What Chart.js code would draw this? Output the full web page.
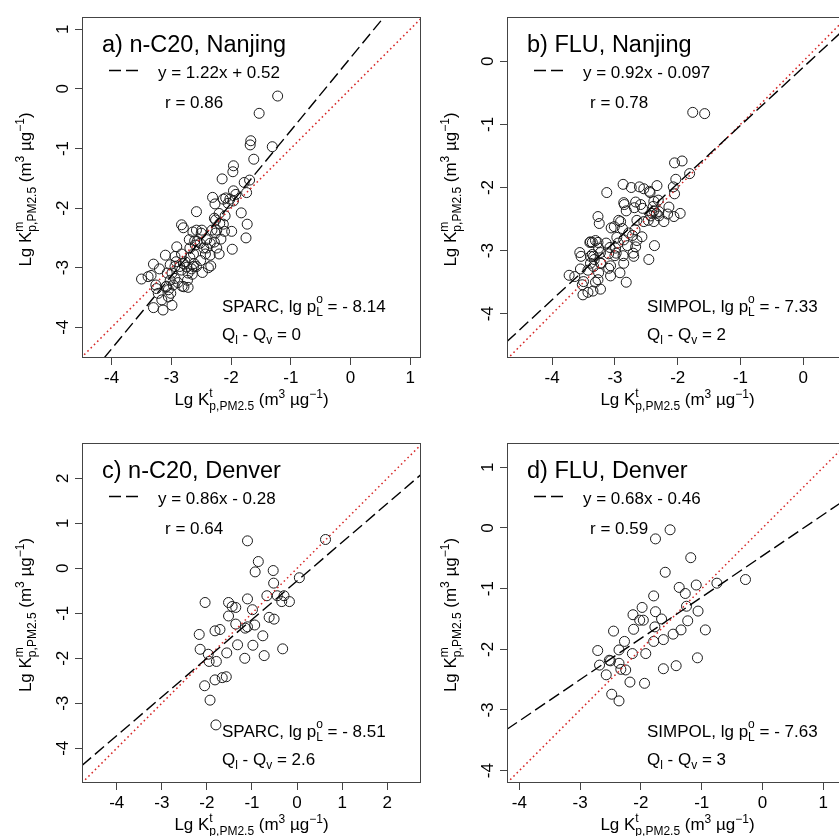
<!DOCTYPE html>
<html><head><meta charset="utf-8">
<script src="https://cdn.jsdelivr.net/npm/chart.js@4.4.1/dist/chart.umd.min.js"></script>
<style>
html,body{margin:0;padding:0;background:#fff;width:839px;height:836px;overflow:hidden;position:relative;}
canvas{position:absolute;}
</style></head><body>
<canvas id="pA" width="440" height="420" style="left:0px;top:0px;width:440px;height:420px"></canvas>
<canvas id="pB" width="442" height="420" style="left:425px;top:0px;width:442px;height:420px"></canvas>
<canvas id="pC" width="440" height="419" style="left:0px;top:426px;width:440px;height:419px"></canvas>
<canvas id="pD" width="442" height="419" style="left:425px;top:426px;width:442px;height:419px"></canvas>
<script>
const FONT = '"Liberation Sans", Arial, Helvetica, sans-serif';

// ---- data: panel a) n-C20, Nanjing (x = Lg Kp theoretical, y = Lg Kp measured)
const aKt = [-1.22,-1.53,-1.67,-1.68,-1.31,-1.62,-1.96,-1.97,-2.15,-1.78,-1.69,-1.74,-1.96,-1.92,-2.02,-2.13,-2.09,-2.31,-2.27,-2.58,-1.83,-2.20,-2.28,-2.26,-2.10,-1.73,-1.75,-1.99,-2.13,-2.11,-2.17,-2.28,-2.26,-1.98,-2.20,-2.34,-2.38,-2.48,-2.43,-2.46,-2.49,-2.50,-2.58,-2.61,-2.57,-2.60,-2.70,-2.83,-2.80,-2.64,-2.52,-2.91,-2.83,-2.63,-2.69,-2.62,-2.58,-2.66,-2.74,-2.80,-3.10,-3.02,-2.94,-2.83,-2.72,-2.65,-2.73,-2.82,-2.72,-2.79,-3.30,-3.20,-3.07,-2.99,-2.94,-3.02,-3.09,-3.05,-3.08,-2.97,-2.89,-3.50,-3.39,-3.34,-3.26,-3.25,-3.22,-3.16,-3.05,-3.01,-2.99,-3.14,-3.30,-2.92,-2.35,-2.41,-2.51,-2.63,-2.77,-2.86,-2.94,-2.69,-2.41,-2.35,-2.24,-2.05,-1.96,-2.19,-2.32,-2.24];
const aKm = [-0.12,-0.41,-0.87,-0.94,-0.97,-1.18,-1.29,-1.39,-1.51,-1.57,-1.53,-1.74,-1.71,-1.77,-1.85,-1.85,-1.83,-1.82,-1.93,-2.06,-2.08,-2.09,-2.17,-2.20,-2.13,-2.27,-2.50,-2.39,-2.27,-2.39,-2.52,-2.57,-2.42,-2.69,-2.77,-2.97,-3.00,-3.08,-2.77,-2.67,-2.37,-2.42,-2.37,-2.55,-2.56,-2.62,-2.53,-2.28,-2.33,-2.40,-2.59,-2.65,-2.77,-2.77,-2.83,-2.93,-2.98,-3.02,-2.99,-2.93,-2.79,-2.95,-2.98,-3.04,-3.09,-3.11,-3.21,-3.31,-3.33,-3.32,-2.94,-3.02,-3.09,-3.09,-3.18,-3.21,-3.32,-3.37,-3.31,-3.29,-3.25,-3.19,-3.15,-3.13,-3.29,-3.35,-3.43,-3.54,-3.49,-3.43,-3.63,-3.71,-3.67,-2.90,-2.79,-2.67,-2.88,-2.98,-2.90,-2.98,-2.81,-2.67,-2.53,-2.59,-2.67,-1.92,-1.88,-2.26,-2.37,-2.37];
// ---- panel b) FLU, Nanjing
const bKt = [-1.76,-1.57,-2.05,-1.93,-2.03,-1.81,-1.96,-2.07,-2.05,-2.33,-2.44,-2.45,-2.61,-2.54,-2.74,-2.87,-3.13,-2.67,-2.59,-2.56,-2.69,-2.82,-2.86,-2.85,-2.38,-2.31,-2.39,-2.38,-2.34,-2.30,-2.14,-2.16,-2.22,-2.06,-2.30,-2.41,-2.38,-3.27,-3.25,-2.94,-2.91,-3.01,-3.06,-2.88,-2.65,-2.68,-2.57,-2.72,-2.47,-2.54,-2.43,-2.78,-2.86,-2.80,-2.67,-2.65,-2.97,-3.14,-3.26,-3.23,-3.08,-2.99,-2.95,-2.71,-2.70,-2.87,-2.98,-3.00,-3.10,-3.39,-3.31,-3.36,-3.40,-3.27,-2.37,-2.46,-3.56,-3.54,-3.36,-3.34,-3.33,-3.39,-3.23,-3.07,-3.10,-2.86,-3.34,-3.26,-3.27,-3.31,-3.73,-3.64,-3.55,-3.50,-3.43,-3.52,-3.51,-3.43,-3.35,-3.23,-3.07,-2.92,-2.82,-3.22,-3.39];
const bKm = [-0.81,-0.83,-1.61,-1.58,-1.87,-1.78,-2.41,-1.99,-2.10,-1.97,-2.08,-2.06,-1.99,-2.02,-2.00,-1.95,-2.08,-2.23,-2.27,-2.33,-2.32,-2.37,-2.24,-2.27,-2.22,-2.20,-2.30,-2.37,-2.41,-2.38,-2.31,-2.42,-2.54,-2.46,-2.45,-2.41,-2.54,-2.46,-2.57,-2.52,-2.54,-2.62,-2.64,-2.65,-2.52,-2.67,-2.78,-2.76,-2.52,-2.54,-2.45,-2.72,-2.83,-2.92,-2.94,-2.84,-2.79,-2.88,-2.96,-3.03,-2.95,-2.96,-2.88,-3.04,-3.09,-3.08,-3.04,-3.08,-3.05,-2.86,-2.84,-2.87,-2.87,-2.87,-2.92,-3.14,-3.03,-3.09,-3.06,-3.09,-3.14,-3.09,-3.20,-3.24,-3.28,-3.20,-3.25,-3.35,-3.46,-3.50,-3.39,-3.41,-3.29,-3.49,-3.31,-3.54,-3.70,-3.66,-3.64,-3.61,-3.40,-3.35,-3.50,-3.20,-3.20];
// ---- panel c) n-C20, Denver
const cKt = [-1.10,0.63,-0.86,-0.93,-0.53,-0.52,0.05,-2.04,-1.52,-1.44,-1.36,-1.10,-0.99,-0.67,-0.44,-0.29,-0.34,-0.17,-1.52,-1.36,-1.15,-1.10,-0.94,-0.62,-0.51,-2.17,-1.82,-1.71,-0.76,-2.15,-1.97,-1.95,-1.79,-1.56,-1.32,-0.98,-1.16,-0.73,-0.32,-2.05,-1.82,-1.66,-1.57,-1.93,-1.80];
const cKm = [0.61,0.64,0.15,-0.08,-0.05,-0.33,-0.21,-0.76,-0.76,-0.85,-0.87,-0.68,-0.92,-0.61,-0.61,-0.61,-0.74,-0.74,-1.06,-1.24,-1.33,-1.30,-1.26,-1.09,-1.13,-1.47,-1.39,-1.36,-1.50,-1.80,-1.91,-2.07,-2.07,-1.88,-1.70,-1.71,-2.00,-1.94,-1.79,-2.61,-2.48,-2.43,-2.41,-2.93,-3.48];
// ---- panel d) FLU, Denver
const dKt = [-1.52,-1.76,-1.18,-1.60,-0.28,-0.75,-1.09,-1.37,-1.27,-1.79,-1.98,-2.13,-2.02,-1.96,-1.76,-1.66,-1.25,-1.06,-1.23,-1.77,-2.12,-2.45,-1.34,-0.94,-1.47,-1.63,-1.79,-2.27,-2.36,-2.71,-2.14,-1.92,-2.68,-2.52,-2.50,-2.36,-2.33,-2.25,-2.57,-1.07,-1.42,-1.63,-2.18,-1.94,-2.48,-2.36];
const dKm = [-0.03,-0.18,-0.49,-0.73,-0.85,-0.91,-0.94,-0.98,-1.08,-1.12,-1.31,-1.43,-1.52,-1.52,-1.38,-1.50,-1.29,-1.37,-1.53,-1.63,-1.67,-1.70,-1.68,-1.68,-1.75,-1.84,-1.87,-1.87,-2.01,-2.02,-2.07,-2.07,-2.26,-2.18,-2.19,-2.23,-2.33,-2.34,-2.42,-2.14,-2.27,-2.32,-2.54,-2.56,-2.74,-2.85];

// ---- regression fits and annotations
const panelTitles = ['a) n-C20, Nanjing', 'b) FLU, Nanjing', 'c) n-C20, Denver', 'd) FLU, Denver'];
const slopes = [1.22, 0.92, 0.86, 0.68];
const intercepts = [0.52, -0.097, -0.28, -0.46];
const eqLabels = ['y = 1.22x + 0.52', 'y = 0.92x - 0.097', 'y = 0.86x - 0.28', 'y = 0.68x - 0.46'];
const rLabels = ['r = 0.86', 'r = 0.78', 'r = 0.64', 'r = 0.59'];
const methods = ['SPARC', 'SIMPOL', 'SPARC', 'SIMPOL'];
const lgPL = ['- 8.14', '- 7.33', '- 8.51', '- 7.63'];
const qDiff = ['0', '2', '2.6', '3'];

// ---- axis ticks and ranges
const aTicksX = [-4,-3,-2,-1,0,1];    const aTicksY = [-4,-3,-2,-1,0,1];
const bTicksX = [-4,-3,-2,-1,0];      const bTicksY = [-4,-3,-2,-1,0];
const cTicksX = [-4,-3,-2,-1,0,1,2];  const cTicksY = [-4,-3,-2,-1,0,1,2];
const dTicksX = [-4,-3,-2,-1,0,1];    const dTicksY = [-4,-3,-2,-1,0,1];
const aRangeX = [-4.497, 1.181]; const aRangeY = [-4.515, 1.206];
const bRangeX = [-4.72, 0.714];  const bRangeY = [-4.70, 0.70];
const cRangeX = [-4.769, 2.747]; const cRangeY = [-4.771, 2.784];
const dRangeX = [-4.202, 1.406]; const dRangeY = [-4.203, 1.40];

function fontStr(s){ return s + 'px ' + FONT; }
function partWidth(ctx, p){
  ctx.font = fontStr(p.s);
  if (p.stack) return Math.max(ctx.measureText(p.sup).width, ctx.measureText(p.sub).width);
  return ctx.measureText(p.t).width;
}
function drawRich(ctx, parts, x, y, align){
  let w = 0; for (const p of parts) w += partWidth(ctx, p);
  let cx = align === 'center' ? x - w / 2 : x;
  ctx.textAlign = 'left'; ctx.textBaseline = 'alphabetic';
  for (const p of parts){
    const pw = partWidth(ctx, p);
    ctx.font = fontStr(p.s);
    if (p.stack){
      ctx.fillText(p.sup, cx, y + p.up);
      ctx.fillText(p.sub, cx, y + p.down);
    } else {
      ctx.fillText(p.t, cx, y + (p.dy || 0));
    }
    cx += pw;
  }
}
function axisTitle(sup){
  return [
    {t:'Lg K', s:17},
    {stack:true, sup:sup, sub:'p,PM2.5', s:12, up:-8, down:5},
    {t:' (m', s:17}, {t:'3', s:12, dy:-7},
    {t:' \u00b5g', s:17}, {t:'\u22121', s:12, dy:-7},
    {t:')', s:17}
  ];
}

const decor = {
  id: 'decor',
  afterDraw(chart, args, o){
    const ctx = chart.ctx; const ca = chart.chartArea;
    const i = o.idx;
    ctx.save();
    // box
    ctx.strokeStyle = '#444'; ctx.lineWidth = 1; ctx.setLineDash([]);
    ctx.strokeRect(ca.left + 0.5, ca.top + 0.5, ca.right - ca.left - 1, ca.bottom - ca.top - 1);
    ctx.fillStyle = '#000';
    // panel title
    ctx.font = fontStr(23.5); ctx.textAlign = 'left'; ctx.textBaseline = 'alphabetic';
    ctx.fillText(panelTitles[i], ca.left + 20, ca.top + 35);
    // legend sample of dashed line
    ctx.strokeStyle = '#000'; ctx.lineWidth = 1.4; ctx.setLineDash([12, 5]);
    ctx.beginPath(); ctx.moveTo(ca.left + 27, ca.top + 53.5); ctx.lineTo(ca.left + 58, ca.top + 53.5); ctx.stroke();
    ctx.setLineDash([]);
    ctx.font = fontStr(17);
    ctx.fillText(eqLabels[i], ca.left + 76, ca.top + 60.5);
    ctx.fillText(rLabels[i], ca.left + 83, ca.top + 91);
    drawRich(ctx, [
      {t: methods[i] + ', lg p', s:17},
      {stack:true, sup:'o', sub:'L', s:12, up:-9, down:4},
      {t:' = ' + lgPL[i], s:17}
    ], ca.left + 140, ca.bottom - 46.5, 'left');
    drawRich(ctx, [
      {t:'Q', s:17}, {t:'l', s:12, dy:4}, {t:' - Q', s:17}, {t:'v', s:12, dy:4}, {t:' = ' + qDiff[i], s:17}
    ], ca.left + 140, ca.bottom - 18.5, 'left');
    // x axis title
    drawRich(ctx, axisTitle('t'), (ca.left + ca.right) / 2, ca.bottom + 46.5, 'center');
    // y axis title (rotated)
    ctx.translate(ca.left - 57, (ca.top + ca.bottom) / 2 + 2);
    ctx.rotate(-Math.PI / 2);
    drawRich(ctx, axisTitle('m'), 0, 6, 'center');
    ctx.restore();
  }
};

function makePanel(id, idx, kt, km, ticksX, ticksY, rangeX, rangeY, padTop, padRight){
  const pts = kt.map((v, k) => ({x: v, y: km[k]}));
  const fitLine = rangeX.map(v => ({x: v, y: slopes[idx] * v + intercepts[idx]}));
  const lo = Math.min(rangeX[0], rangeY[0]), hi = Math.max(rangeX[1], rangeY[1]);
  const oneToOne = [{x: lo, y: lo}, {x: hi, y: hi}];
  const tickFont = {family: FONT, size: 17};
  new Chart(document.getElementById(id), {
    type: 'scatter',
    data: {datasets: [
      {data: pts, pointStyle: 'circle', pointRadius: 5, pointHoverRadius: 5, borderColor: '#1a1a1a', backgroundColor: 'rgba(0,0,0,0)', borderWidth: 1, order: 3},
      {data: oneToOne, showLine: true, pointRadius: 0, borderColor: 'rgb(214,38,38)', borderWidth: 1.5, borderDash: [1.6, 3], order: 2},
      {data: fitLine, showLine: true, pointRadius: 0, borderColor: '#000', borderWidth: 1.4, borderDash: [12, 5], order: 1}
    ]},
    options: {
      responsive: false, animation: false, devicePixelRatio: 1,
      layout: {padding: {top: padTop, right: padRight, left: 0, bottom: 0}},
      plugins: {legend: {display: false}, tooltip: {enabled: false}, decor: {idx: idx}},
      events: [],
      scales: {
        x: {
          type: 'linear', position: 'bottom', min: rangeX[0], max: rangeX[1],
          afterBuildTicks: s => { s.ticks = ticksX.map(v => ({value: v})); },
          afterFit: s => { s.height = 62; },
          grid: {drawOnChartArea: false, drawTicks: true, tickLength: 7, color: '#444', lineWidth: 1},
          border: {display: false},
          ticks: {autoSkip: false, maxRotation: 0, minRotation: 0, padding: 3, color: '#000', font: tickFont}
        },
        y: {
          type: 'linear', position: 'left', min: rangeY[0], max: rangeY[1],
          afterBuildTicks: s => { s.ticks = ticksY.map(v => ({value: v})); },
          afterFit: s => { s.width = 82; },
          grid: {drawOnChartArea: false, drawTicks: true, tickLength: 7, color: '#444', lineWidth: 1},
          border: {display: false},
          ticks: {autoSkip: false, minRotation: 90, maxRotation: 90, crossAlign: 'center', padding: 4, color: '#000', font: tickFont}
        }
      }
    },
    plugins: [decor]
  });
}

makePanel('pA', 0, aKt, aKm, aTicksX, aTicksY, aRangeX, aRangeY, 17, 19);
makePanel('pB', 1, bKt, bKm, bTicksX, bTicksY, bRangeX, bRangeY, 17, 19);
makePanel('pC', 2, cKt, cKm, cTicksX, cTicksY, cRangeX, cRangeY, 17, 19);
makePanel('pD', 3, dKt, dKm, dTicksX, dTicksY, dRangeX, dRangeY, 17, 19);
</script>
</body></html>
